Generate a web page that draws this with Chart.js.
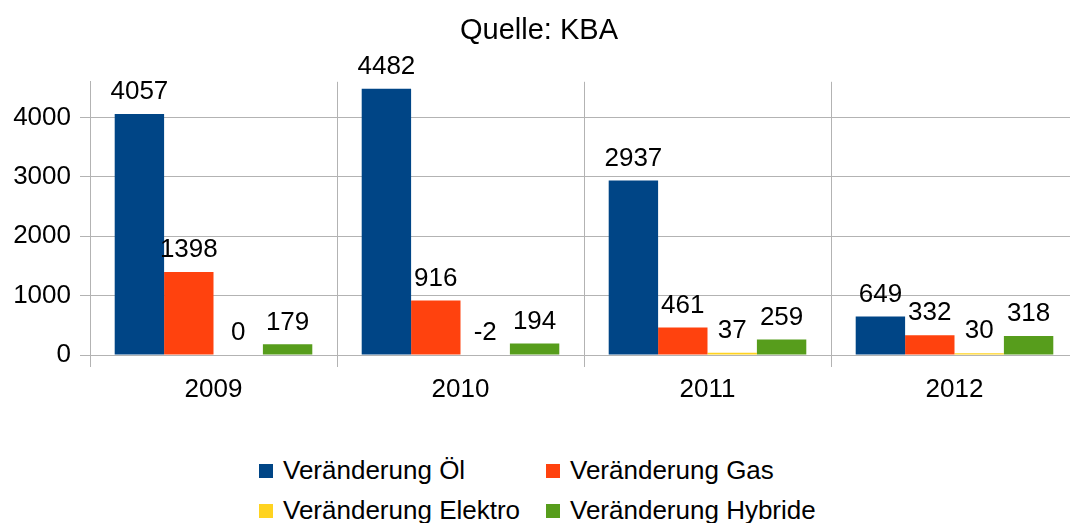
<!DOCTYPE html>
<html>
<head>
<meta charset="utf-8">
<script src="https://cdn.jsdelivr.net/npm/chart.js@4.4.0/dist/chart.umd.min.js"></script>
<style>
    html, body { margin: 0; padding: 0; background: #fff; overflow: hidden; }
    #wrap { position: relative; width: 1070px; height: 523px; overflow: hidden; }
    #box { position: absolute; left: 0; top: 0; width: 1080px; height: 440px; }
    #legend { position: absolute; left: 259px; top: 450px; font-family: 'Liberation Sans', Arial, sans-serif; font-size: 26px; color: #000; }
    .item { position: absolute; white-space: nowrap; line-height: 40px; height: 40px; }
    .sw { display: inline-block; width: 14px; height: 14px; margin-right: 10px; vertical-align: 1px; }
</style>
</head>
<body>
<div id="wrap">
    <div id="box"><canvas id="chart"></canvas></div>
    <div id="legend"></div>
</div>
<script>
const years = ['2009', '2010', '2011', '2012'];
const oel = [4057, 4482, 2937, 649];
const gas = [1398, 916, 461, 332];
const elektro = [0, -2, 37, 30];
const hybride = [179, 194, 259, 318];
const yTicks = [0, 1000, 2000, 3000, 4000];

const seriesNames = ['Veränderung Öl', 'Veränderung Gas', 'Veränderung Elektro', 'Veränderung Hybride'];
const seriesColors = ['#004586', '#ff420e', '#ffd320', '#579d1c'];
const seriesData = [oel, gas, elektro, hybride];

const FONT = "'Liberation Sans', Arial, sans-serif";

// value labels above each bar
const valueLabels = {
    id: 'valueLabels',
    afterDatasetsDraw(chart) {
        const ctx = chart.ctx;
        ctx.save();
        ctx.font = '26px ' + FONT;
        ctx.fillStyle = '#000';
        ctx.textAlign = 'center';
        ctx.textBaseline = 'middle';
        chart.data.datasets.forEach((ds, i) => {
            chart.getDatasetMeta(i).data.forEach((bar, j) => {
                const top = Math.min(bar.y, bar.base);
                ctx.fillText(String(ds.data[j]), bar.x, top - 22);
            });
        });
        ctx.restore();
    }
};

new Chart(document.getElementById('chart'), {
    type: 'bar',
    data: {
        labels: years,
        datasets: seriesData.map((d, i) => ({
            label: seriesNames[i],
            data: d,
            backgroundColor: seriesColors[i],
            barPercentage: 1,
            categoryPercentage: 0.8
        }))
    },
    options: {
        responsive: true,
        maintainAspectRatio: false,
        animation: false,
        layout: { padding: { left: 0, right: 2, top: 0, bottom: 0 } },
        plugins: {
            legend: { display: false },
            tooltip: { enabled: false },
            title: {
                display: true,
                text: 'Quelle: KBA',
                color: '#000',
                font: { family: FONT, size: 29, weight: 'normal' },
                padding: { top: 14, bottom: 33 }
            }
        },
        scales: {
            x: {
                grid: { color: '#b3b3b3', tickLength: 12, offset: true },
                border: { color: '#b3b3b3' },
                ticks: { color: '#000', font: { family: FONT, size: 26 }, padding: 7 },
                afterFit: (scale) => { scale.height = 85; }
            },
            y: {
                min: 0,
                max: 4600,
                grid: { color: '#b3b3b3', tickLength: 10 },
                border: { color: '#b3b3b3' },
                ticks: {
                    color: '#000',
                    font: { family: FONT, size: 26 },
                    padding: 9,
                    callback: (v) => String(v)
                },
                afterBuildTicks: (scale) => { scale.ticks = yTicks.map(v => ({ value: v })); },
                afterFit: (scale) => { scale.width = 90; }
            }
        }
    },
    plugins: [valueLabels]
});

// legend, two columns
const legend = document.getElementById('legend');
seriesNames.forEach((name, i) => {
    const el = document.createElement('div');
    el.className = 'item';
    el.style.left = (i % 2) * 287 + 'px';
    el.style.top = Math.floor(i / 2) * 40 + 'px';
    el.innerHTML = '<span class="sw" style="background:' + seriesColors[i] + '"></span>' + name;
    legend.appendChild(el);
});
</script>
</body>
</html>
